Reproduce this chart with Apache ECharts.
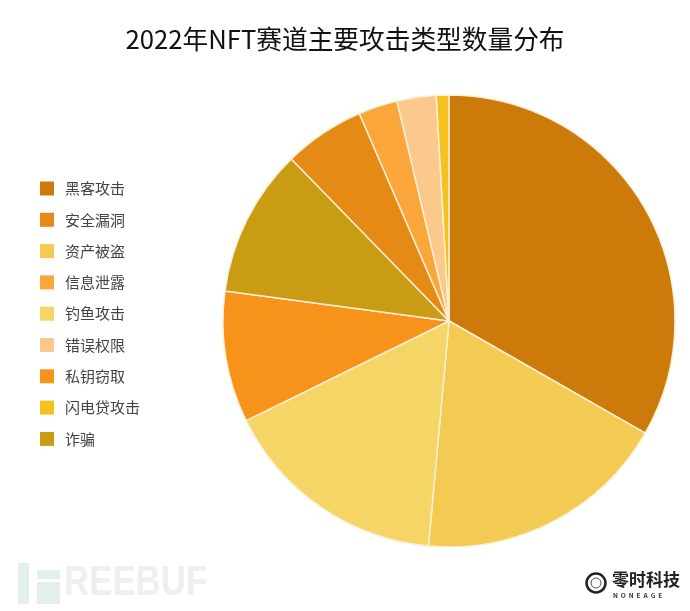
<!DOCTYPE html>
<html><head><meta charset="utf-8">
<style>html,body{margin:0;padding:0;background:#fff}#c{width:690px;height:611px}</style>
<script src="https://cdn.jsdelivr.net/npm/echarts@6/dist/echarts.min.js"></script>
</head><body><div id="c"></div>
<script>
const titleText = '2022年NFT赛道主要攻击类型数量分布';
const sliceNames = ['黑客攻击','资产被盗','钓鱼攻击','私钥窃取','诈骗','安全漏洞','信息泄露','错误权限','闪电贷攻击'];
const sliceValues = [33.3,18.2,16.3,9.4,10.6,5.8,2.8,2.8,0.9];
const sliceColors = ['#CC7A0A','#F3CB52','#F6D567','#F7931A','#C99C13','#E58A14','#FBA63A','#FCC98C','#F5C11F'];
const legendOrder = ['黑客攻击','安全漏洞','资产被盗','信息泄露','钓鱼攻击','错误权限','私钥窃取','闪电贷攻击','诈骗'];
const cjk = '"Noto Sans CJK SC","Noto Sans",sans-serif';
const chart = echarts.init(document.getElementById('c'));
chart.setOption({
  animation:false,
  backgroundColor:'#fff',
  title:{text:titleText,left:'center',top:26,padding:0,textStyle:{fontFamily:cjk,fontSize:25.7,fontWeight:'normal',color:'#111'}},
  legend:{orient:'vertical',left:35,top:176,data:legendOrder,icon:'rect',itemWidth:14,itemHeight:14,itemGap:16.3,
    itemStyle:{borderWidth:0},
    textStyle:{fontFamily:cjk,fontSize:15,color:'#444',padding:[0,0,0,6]}},
  series:[{type:'pie',center:[449,321],radius:[0,226],startAngle:90,clockwise:true,label:{show:false},labelLine:{show:false},
    silent:true,
    itemStyle:{borderColor:'#FDEFD6',borderWidth:1.5},
    data:sliceNames.map((n,i)=>({name:n,value:sliceValues[i],itemStyle:{color:sliceColors[i]}}))}],
  graphic:[
    {type:'rect',shape:{x:18,y:563,width:11,height:41},style:{fill:'#E3EFE9'}},
    {type:'rect',shape:{x:37,y:570,width:23,height:9},style:{fill:'#E3EFE9'}},
    {type:'rect',shape:{x:37,y:582,width:23,height:22},style:{fill:'#E3EFE9'}},
    {type:'text',x:64,y:562,scaleX:0.81,style:{x:0,y:0,text:'REEBUF',fontFamily:'"Liberation Sans",sans-serif',fontSize:43,fontWeight:'bold',fill:'#EFEFEF'}},
    {type:'circle',shape:{cx:596,cy:583,r:9.5},style:{fill:'none',stroke:'#222',lineWidth:2.5}},
    {type:'circle',shape:{cx:596,cy:583,r:5},style:{fill:'none',stroke:'#555',lineWidth:1}},
    {type:'text',style:{x:612,y:571,text:'零时科技',fontFamily:cjk,fontSize:17,fontWeight:'bold',fill:'#222'}},
    {type:'text',style:{x:613,y:592,text:'N  O  N  E  A  G  E',fontFamily:cjk,fontSize:6.5,fontWeight:'bold',fill:'#333'}}
  ]
});
</script></body></html>
